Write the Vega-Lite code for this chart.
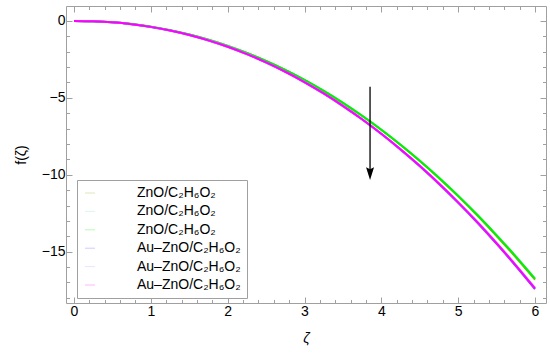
{
  "$schema": "https://vega.github.io/schema/vega-lite/v6.json",
  "width": 480,
  "height": 297,
  "autosize": {"type": "none"},
  "padding": {"left": 66, "top": 6, "right": 4, "bottom": 52},
  "background": "white",
  "config": {
    "view": {"stroke": "#a0a0a0", "strokeWidth": 1},
    "axis": {"domain": false, "grid": false, "tickColor": "#a0a0a0", "labelColor": "#000000", "labelFont": "Liberation Sans", "labelFontSize": 14, "titleFont": "Liberation Sans", "titleFontSize": 14, "titleFontWeight": "normal", "titleColor": "#000000", "labelOverlap": false, "labelFlush": false},
    "legend": {"labelFont": "Liberation Sans"}
  },
  "datasets": {
    "curves": [
      {"z": 0, "s1": 0, "s2": 0, "s3": 0, "s4": 0, "s5": 0, "s6": 0},
      {"z": 0.25, "s1": -0.019, "s2": -0.019, "s3": -0.019, "s4": -0.020, "s5": -0.020, "s6": -0.020},
      {"z": 0.5, "s1": -0.084, "s2": -0.084, "s3": -0.084, "s4": -0.087, "s5": -0.087, "s6": -0.087},
      {"z": 0.75, "s1": -0.201, "s2": -0.200, "s3": -0.200, "s4": -0.208, "s5": -0.207, "s6": -0.207},
      {"z": 1, "s1": -0.370, "s2": -0.368, "s3": -0.369, "s4": -0.384, "s5": -0.382, "s6": -0.383},
      {"z": 1.25, "s1": -0.596, "s2": -0.593, "s3": -0.594, "s4": -0.617, "s5": -0.614, "s6": -0.615},
      {"z": 1.5, "s1": -0.878, "s2": -0.873, "s3": -0.875, "s4": -0.910, "s5": -0.905, "s6": -0.907},
      {"z": 1.75, "s1": -1.219, "s2": -1.213, "s3": -1.215, "s4": -1.264, "s5": -1.257, "s6": -1.260},
      {"z": 2, "s1": -1.620, "s2": -1.612, "s3": -1.615, "s4": -1.680, "s5": -1.672, "s6": -1.675},
      {"z": 2.25, "s1": -2.082, "s2": -2.072, "s3": -2.076, "s4": -2.159, "s5": -2.149, "s6": -2.153},
      {"z": 2.5, "s1": -2.606, "s2": -2.593, "s3": -2.598, "s4": -2.702, "s5": -2.689, "s6": -2.694},
      {"z": 2.75, "s1": -3.193, "s2": -3.177, "s3": -3.183, "s4": -3.311, "s5": -3.294, "s6": -3.301},
      {"z": 3, "s1": -3.842, "s2": -3.823, "s3": -3.831, "s4": -3.985, "s5": -3.965, "s6": -3.973},
      {"z": 3.25, "s1": -4.557, "s2": -4.534, "s3": -4.543, "s4": -4.725, "s5": -4.702, "s6": -4.711},
      {"z": 3.5, "s1": -5.337, "s2": -5.310, "s3": -5.321, "s4": -5.535, "s5": -5.507, "s6": -5.518},
      {"z": 3.75, "s1": -6.181, "s2": -6.151, "s3": -6.163, "s4": -6.410, "s5": -6.378, "s6": -6.391},
      {"z": 4, "s1": -7.091, "s2": -7.056, "s3": -7.070, "s4": -7.354, "s5": -7.317, "s6": -7.332},
      {"z": 4.25, "s1": -8.069, "s2": -8.029, "s3": -8.045, "s4": -8.368, "s5": -8.326, "s6": -8.343},
      {"z": 4.5, "s1": -9.112, "s2": -9.067, "s3": -9.085, "s4": -9.449, "s5": -9.402, "s6": -9.421},
      {"z": 4.75, "s1": -10.226, "s2": -10.175, "s3": -10.195, "s4": -10.604, "s5": -10.551, "s6": -10.572},
      {"z": 5, "s1": -11.407, "s2": -11.350, "s3": -11.373, "s4": -11.829, "s5": -11.770, "s6": -11.794},
      {"z": 5.25, "s1": -12.654, "s2": -12.591, "s3": -12.616, "s4": -13.122, "s5": -13.057, "s6": -13.083},
      {"z": 5.5, "s1": -13.982, "s2": -13.912, "s3": -13.940, "s4": -14.499, "s5": -14.427, "s6": -14.456},
      {"z": 5.75, "s1": -15.366, "s2": -15.289, "s3": -15.320, "s4": -15.935, "s5": -15.855, "s6": -15.887},
      {"z": 6, "s1": -16.820, "s2": -16.736, "s3": -16.770, "s4": -17.442, "s5": -17.355, "s6": -17.390}
    ],
    "arrow": [{"z": 3.853, "y1": -4.27, "y2": -9.7}],
    "head": [{"z": 3.853, "y": -9.92}]
  },
  "layer": [
    {
      "data": {"name": "curves"},
      "transform": [{"fold": ["s1", "s2", "s3", "s4", "s5", "s6"], "as": ["series", "f"]}],
      "mark": {"type": "line", "strokeWidth": 2, "interpolate": "monotone", "clip": true},
      "encoding": {
        "x": {"field": "z", "type": "quantitative", "scale": {"domain": [-0.104, 6.143], "nice": false, "zero": false},
          "axis": {"orient": "bottom", "title": "ζ", "titleFontStyle": "italic", "titlePadding": 11,
            "values": [0,0.2,0.4,0.6,0.8,1,1.2,1.4,1.6,1.8,2,2.2,2.4,2.6,2.8,3,3.2,3.4,3.6,3.8,4,4.2,4.4,4.6,4.8,5,5.2,5.4,5.6,5.8,6],
            "labelExpr": "abs(datum.value-round(datum.value))<0.001 ? format(datum.value,'d') : ''",
            "tickSize": {"condition": {"test": "abs(datum.value-round(datum.value))<0.001", "value": -6}, "value": -3.5},
            "labelPadding": 7}},
        "y": {"field": "f", "type": "quantitative", "scale": {"domain": [-18.34, 0.975], "nice": false, "zero": false},
          "axis": {"orient": "left", "title": "f(ζ)", "titlePadding": 13,
            "values": [-18,-17,-16,-15,-14,-13,-12,-11,-10,-9,-8,-7,-6,-5,-4,-3,-2,-1,0],
            "labelExpr": "datum.value % 5 === 0 ? replace(format(datum.value,'d'),'-','−') : ''",
            "tickSize": {"condition": {"test": "datum.value % 5 === 0", "value": -6}, "value": -3.5},
            "labelPadding": 7}},
        "color": {"field": "series", "type": "nominal",
          "scale": {"domain": ["s1", "s2", "s3", "s4", "s5", "s6"], "range": ["#9aa800", "#80e8b0", "#00f000", "#7040ff", "#b8a0ff", "#ff00ff"]},
          "legend": {"orient": "none", "legendX": 11, "legendY": 174, "title": null,
            "labelExpr": "indexof(['s1','s2','s3'], datum.value) >= 0 ? 'ZnO/C₂H₆O₂' : 'Au–ZnO/C₂H₆O₂'",
            "labelFontSize": 14, "labelColor": "#000000", "labelOffset": 40,
            "symbolType": "stroke", "symbolSize": 100, "symbolStrokeWidth": 1, "symbolOpacity": 0.28,
            "rowPadding": 4.4, "padding": 6, "strokeColor": "#a0a0a0", "fillColor": "white", "cornerRadius": 0}}
      }
    },
    {
      "data": {"name": "arrow"},
      "mark": {"type": "rule", "color": "#000000", "strokeWidth": 1.3},
      "encoding": {
        "x": {"field": "z", "type": "quantitative",
          "axis": {"orient": "top", "title": null, "labels": false,
            "values": [0,0.2,0.4,0.6,0.8,1,1.2,1.4,1.6,1.8,2,2.2,2.4,2.6,2.8,3,3.2,3.4,3.6,3.8,4,4.2,4.4,4.6,4.8,5,5.2,5.4,5.6,5.8,6],
            "tickSize": {"condition": {"test": "abs(datum.value-round(datum.value))<0.001", "value": -6}, "value": -3.5}}},
        "y": {"field": "y1", "type": "quantitative",
          "axis": {"orient": "right", "title": null, "labels": false,
            "values": [-18,-17,-16,-15,-14,-13,-12,-11,-10,-9,-8,-7,-6,-5,-4,-3,-2,-1,0],
            "tickSize": {"condition": {"test": "datum.value % 5 === 0", "value": -6}, "value": -3.5}}},
        "y2": {"field": "y2"}
      }
    },
    {
      "data": {"name": "head"},
      "mark": {"type": "point", "shape": "M-1,-1.6L0,-1.1L1,-1.6L0,1.6Z", "size": 64, "filled": true, "color": "#000000", "opacity": 1, "strokeWidth": 0},
      "encoding": {
        "x": {"field": "z", "type": "quantitative", "axis": null},
        "y": {"field": "y", "type": "quantitative", "axis": null}
      }
    }
  ],
  "resolve": {"axis": {"x": "independent", "y": "independent"}}
}
